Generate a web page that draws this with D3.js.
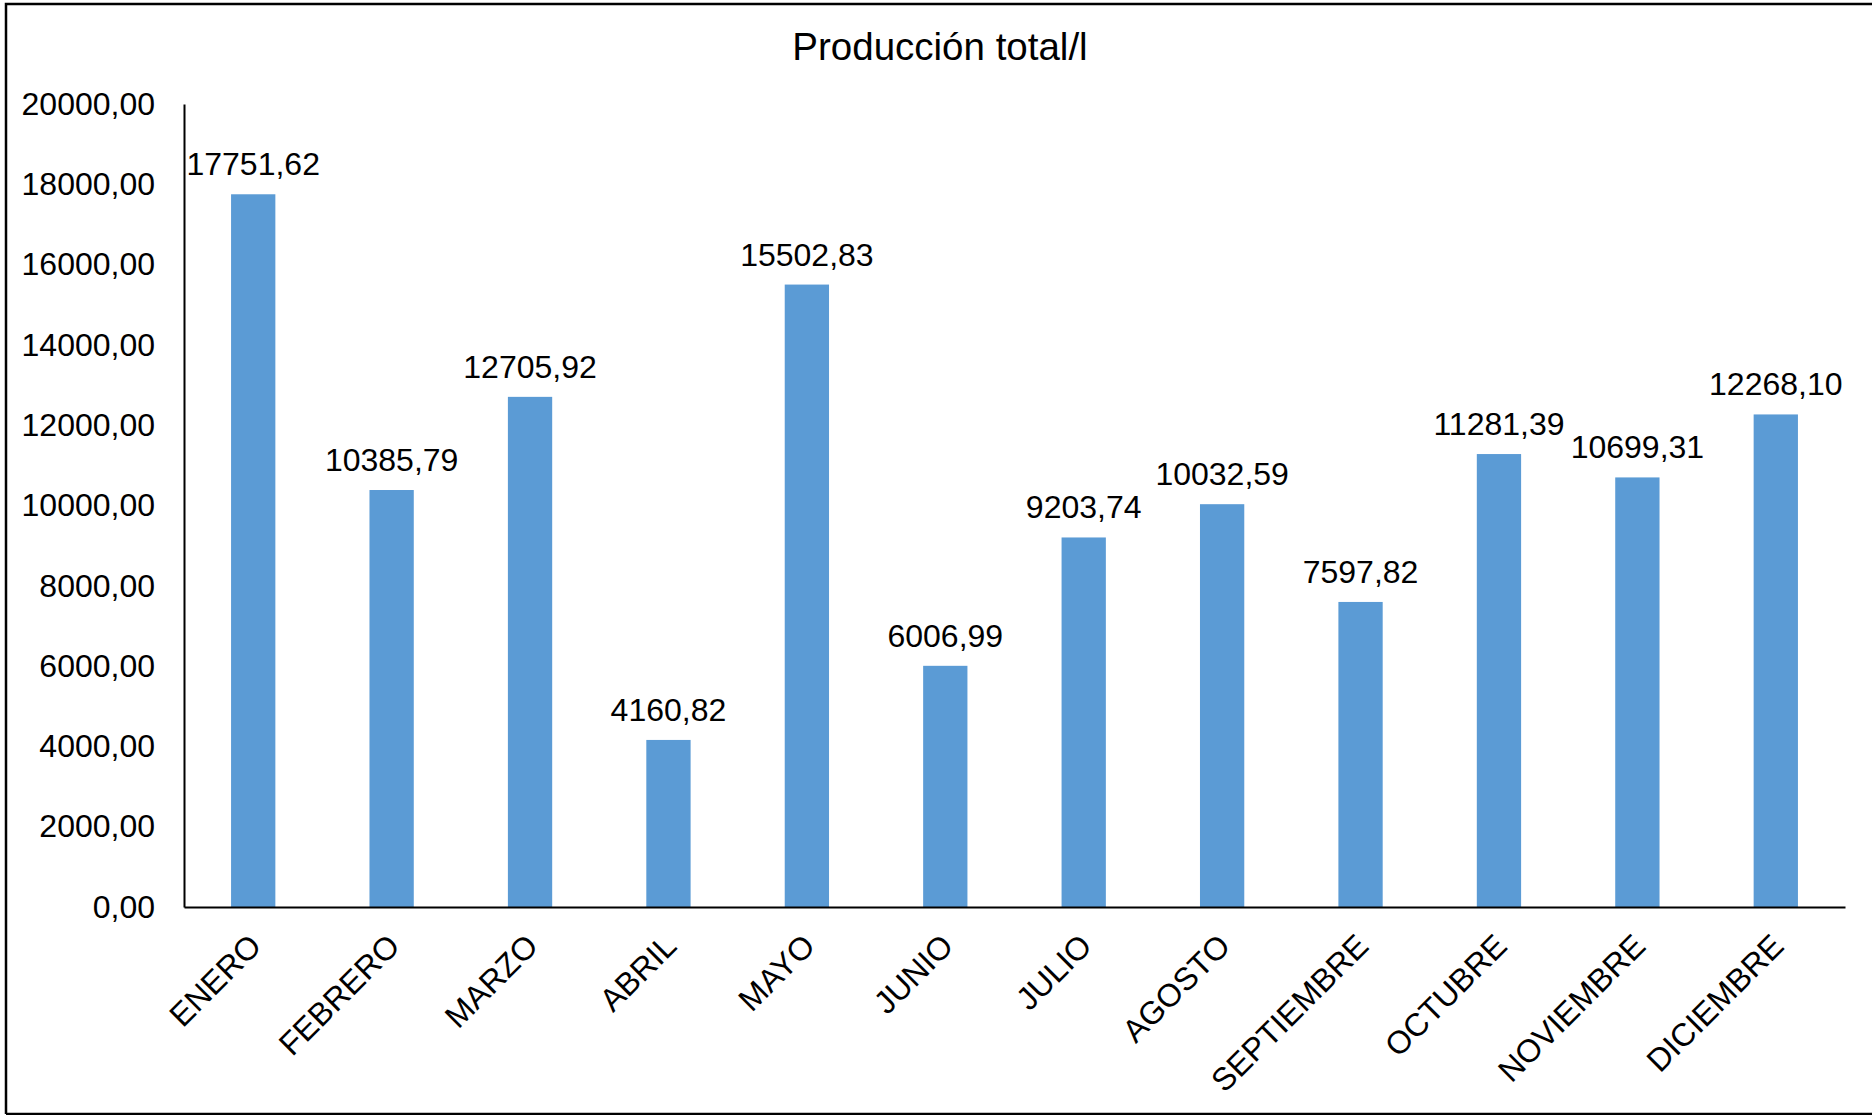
<!DOCTYPE html>
<html>
<head>
<meta charset="utf-8">
<script src="https://cdn.jsdelivr.net/npm/d3@7"></script>
<style>
  body { margin: 0; background: #fff; }
  #chart { width: 1872px; height: 1115px; }
  text { font-family: "Liberation Sans", Arial, sans-serif; fill: #000; }
</style>
</head>
<body>
<div id="chart"></div>
<script>
/* DATA */
const months = ["ENERO", "FEBRERO", "MARZO", "ABRIL", "MAYO", "JUNIO",
  "JULIO", "AGOSTO", "SEPTIEMBRE", "OCTUBRE", "NOVIEMBRE", "DICIEMBRE"];
const production = [17751.62, 10385.79, 12705.92, 4160.82, 15502.83, 6006.99,
  9203.74, 10032.59, 7597.82, 11281.39, 10699.31, 12268.10];
const yTicks = [0, 2000, 4000, 6000, 8000, 10000, 12000, 14000, 16000, 18000, 20000];
const title = "Producción total/l";

/* CANVAS */
const width = 1872;
const height = 1115;
const margin = {top: 104, left: 184, right: 27, bottom: 208};
const labelSize = 32;

const svg = d3.select("#chart")
  .append("svg")
  .attr("width", width)
  .attr("height", height);

// outer frame (right side falls outside the picture)
svg.append("path")
  .attr("d", `M6,1114 V4 H${width + 5} M6,1114 H${width + 5}`)
  .attr("fill", "none")
  .attr("stroke", "#000")
  .attr("stroke-width", 2.5);

/* SCALES */
const xScale = d3.scaleBand()
  .domain(months)
  .range([margin.left, width - margin.right])
  .paddingInner(0.68)
  .paddingOuter(0.34);

const yScale = d3.scaleLinear()
  .domain([0, 20000])
  .range([height - margin.bottom, margin.top]);

const fmt = v => d3.format(".2f")(v).replace(".", ",");

/* BARS */
svg.selectAll("rect.bar")
  .data(production)
  .enter()
  .append("rect")
    .attr("class", "bar")
    .attr("x", (d, i) => xScale(months[i]))
    .attr("y", d => yScale(d))
    .attr("width", xScale.bandwidth())
    .attr("height", d => yScale(0) - yScale(d))
    .attr("fill", "#5B9BD5");

/* AXES */
const yAxis = svg.append("g")
  .attr("transform", `translate(${margin.left},0)`)
  .call(d3.axisLeft(yScale).tickValues(yTicks).tickFormat(fmt).tickSize(0).tickPadding(29));
yAxis.select(".domain").attr("stroke", "#000").attr("stroke-width", 2);
yAxis.selectAll("text").attr("font-size", labelSize).attr("font-family", null);

const xAxis = svg.append("g")
  .attr("transform", `translate(0,${height - margin.bottom})`)
  .call(d3.axisBottom(xScale).tickSize(0));
xAxis.select(".domain").attr("stroke", "#000").attr("stroke-width", 2);
xAxis.selectAll("text")
  .attr("font-size", labelSize)
  .attr("font-family", null)
  .attr("text-anchor", "end")
  .attr("y", 0)
  .attr("dy", "0.35em")
  .attr("transform", "translate(2,33) rotate(-45)");

/* DATA LABELS */
svg.selectAll("text.value")
  .data(production)
  .enter()
  .append("text")
    .attr("class", "value")
    .attr("x", (d, i) => xScale(months[i]) + xScale.bandwidth() / 2)
    .attr("y", d => yScale(d) - 19)
    .attr("text-anchor", "middle")
    .attr("font-size", labelSize)
    .text(d => fmt(d));

/* TITLE */
svg.append("text")
  .attr("x", 940)
  .attr("y", 60)
  .attr("text-anchor", "middle")
  .attr("font-size", 38.5)
  .text(title);
</script>
</body>
</html>
